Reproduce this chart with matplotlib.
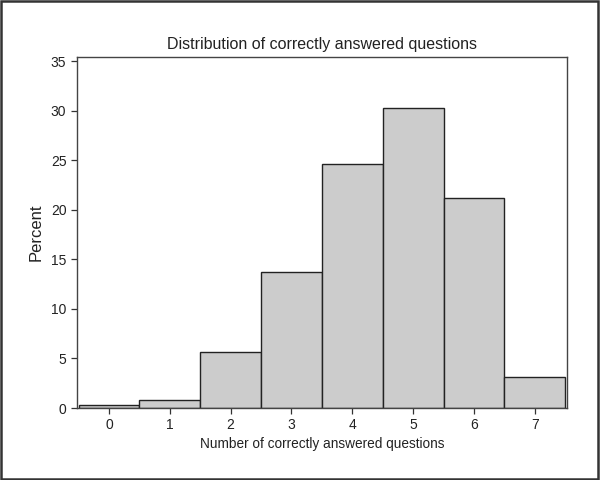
import matplotlib
matplotlib.use("Agg")
import matplotlib.pyplot as plt
from matplotlib.patches import Rectangle

plt.rcParams['font.family'] = ['Liberation Sans', 'DejaVu Sans']

answers = [0, 1, 2, 3, 4, 5, 6, 7]
percent = [0.3, 0.85, 5.65, 13.7, 24.6, 30.3, 21.2, 3.1]

fig = plt.figure(figsize=(6, 4.8), dpi=100)
ax = fig.add_axes([0.128, 0.15, 0.817, 0.731])

ax.bar(answers, percent, width=1.0, color='#cccccc', edgecolor='#222222', linewidth=1.0)

ax.set_xlim(-0.53, 7.53)
ax.set_ylim(0, 35.4)
ax.set_xticks(answers)
ax.set_yticks([0, 5, 10, 15, 20, 25, 30, 35])
ax.tick_params(direction='out', length=4, width=0.9, colors='#333333', labelsize=10, labelcolor='#222222')
for s in ax.spines.values():
    s.set_color('#444444')
    s.set_linewidth(1.0)

ax.set_title("Distribution of correctly answered questions", fontsize=11.5, color='#222222', pad=6)
ax.set_xlabel("Number of correctly answered questions", fontsize=9.8, color='#222222', labelpad=3)
ax.set_ylabel("Percent", fontsize=12, color='#222222', labelpad=5)

# frame around whole figure
fig.patches.append(Rectangle((0.002, 0.003), 0.995, 0.994, transform=fig.transFigure,
                             fill=False, edgecolor='#333333', linewidth=1.8))

fig.savefig("out.png", dpi=100)
